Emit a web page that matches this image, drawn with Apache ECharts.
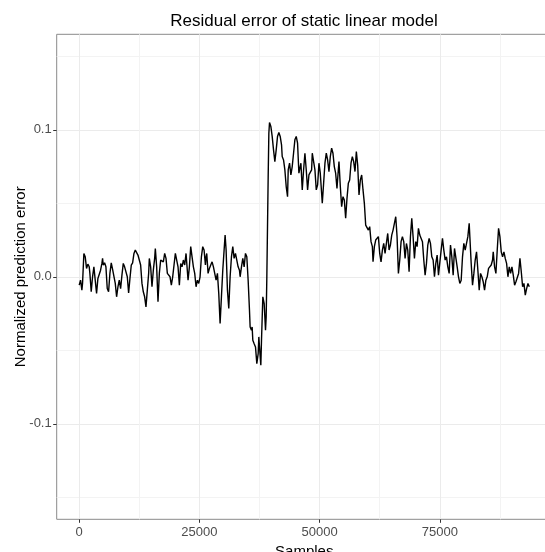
<!DOCTYPE html>
<html>
<head>
<meta charset="utf-8">
<script src="https://cdn.jsdelivr.net/npm/echarts@6/dist/echarts.min.js"></script>
<style>
  html, body { margin: 0; padding: 0; background: #ffffff; }
  #chart { width: 545px; height: 552px; }
</style>
</head>
<body>
<div id="chart"></div>
<script>
// Sample index of each residual point
const sampleIndex = [
  0, 278, 556, 694, 972, 1250, 1528, 1805, 2083, 2222,
  2500, 2778, 3055, 3333, 3611, 3889, 4166, 4444, 4722, 4861,
  5000, 5277, 5555, 5833, 6111, 6388, 6666, 6944, 7222, 7500,
  7777, 8055, 8333, 8611, 8888, 9166, 9444, 9722, 10000, 10277,
  10555, 10833, 11110, 11388, 11666, 11944, 12221, 12499, 12777, 13055,
  13332, 13610, 13888, 14166, 14444, 14582, 14860, 15138, 15416, 15693,
  15832, 16110, 16388, 16666, 16943, 17221, 17499, 17777, 18054, 18332,
  18610, 18888, 19165, 19443, 19721, 19999, 20276, 20554, 20832, 21110,
  21388, 21665, 21943, 22221, 22360, 22637, 22915, 23193, 23471, 23748,
  24026, 24304, 24582, 24860, 25137, 25415, 25693, 25971, 26248, 26387,
  26526, 26804, 27082, 27359, 27637, 27915, 28193, 28470, 28748, 29026,
  29304, 29581, 29859, 30137, 30345, 30554, 30831, 31109, 31387, 31665,
  31942, 32220, 32498, 32776, 33053, 33331, 33470, 33748, 34026, 34303,
  34581, 34859, 35137, 35414, 35553, 35831, 35970, 36109, 36387, 36664,
  36942, 37220, 37359, 37498, 37775, 37914, 38192, 38470, 38748, 38886,
  39025, 39303, 39442, 39581, 39859, 40136, 40414, 40692, 40970, 41247,
  41525, 41803, 42081, 42220, 42497, 42775, 43053, 43331, 43469, 43747,
  44025, 44303, 44580, 44858, 45136, 45414, 45691,
  46112, 46390, 46667, 46945, 47223, 47501, 47778, 48056, 48334, 48473,
  48750, 49028, 49306, 49584, 49862, 50139, 50417, 50556, 50834, 51111,
  51389, 51667, 51945, 52222, 52500, 52778, 53056, 53334, 53611, 53889,
  54028, 54306, 54583, 54861, 55139, 55417, 55694, 55972, 56250, 56528,
  56806, 57083, 57361, 57639, 57917, 58194, 58472, 58750, 59028, 59305,
  59583, 59861, 60139, 60416, 60694, 60972, 61111, 61389, 61666, 61944,
  62222, 62500, 62778, 63055, 63333, 63611, 63888, 64166, 64444, 64722,
  65000, 65277, 65555, 65833, 66110, 66388, 66666, 66944, 67221, 67499,
  67777, 68055, 68332, 68610, 68888, 69166, 69444, 69721, 69999, 70277,
  70554, 70832, 71110, 71388, 71665, 71943, 72221, 72499, 72776, 73054,
  73332, 73610, 73888, 74165, 74443, 74721, 74999, 75276, 75554, 75832,
  76110, 76387, 76665, 76943, 77221, 77498, 77776, 78054, 78332, 78609,
  78887, 79165, 79443, 79720, 79998, 80276, 80554, 80831, 81109, 81248,
  81526, 81804, 82081, 82359, 82637, 82915, 83193, 83470, 83748, 84026,
  84304, 84581, 84859, 85137, 85415, 85692, 85970, 86109, 86387, 86665,
  86942, 87220, 87498, 87776, 88053, 88331, 88609, 88887, 89165, 89442,
  89720, 89998, 90276, 90553, 90831, 91109, 91387, 91664, 91942, 92220,
  92498, 92776, 93053, 93331, 93609
];

// Normalized prediction error at each sample
const predictionError = [
  -0.0057, -0.0023, -0.0091, -0.0045, 0.0159, 0.0136, 0.0057, 0.0086, 0.0068, 0.0023,
  -0.0102, 0, 0.0068, 0.0080, -0.0114, -0.0011, -0.0023, 0.0045, 0.0091, 0.0125,
  0.0080, 0.0095, 0.0068, -0.0080, -0.0102, 0.0023, 0.0095, 0.0050, 0.0041, -0.0045,
  -0.0136, -0.0068, -0.0023, -0.0080, 0.0011, 0.0091, 0.0068, 0.0080, 0, -0.0109,
  -0.0011, 0.0080, 0.0095, 0.0159, 0.0182, 0.0193, 0.0148, 0.0114, 0.0080, -0.0045,
  -0.0102, -0.0136, -0.0205, -0.0091, 0.0023, 0.0125, 0.0068, -0.0068, 0.0045, 0.0125,
  0.0193, 0.0068, -0.0170, 0.0023, 0.0114, 0.0125, 0.0102, 0.0159, 0.0125, 0.0023,
  0.0034, 0, -0.0057, 0, 0.0080, 0.0159, 0.0170, 0.0068, -0.0057, 0.0091,
  0.0068, 0.0114, 0.0080, 0.0159, 0.0170, -0.0023, 0.0068, 0.0205, 0.0136, 0.0068,
  0.0023, -0.0068, -0.0023, -0.0045, 0, 0.0136, 0.0205, 0.0182, 0.0080, 0.0136,
  0.0159, 0.0023, 0.0057, 0.0080, 0.0102, 0.0068, 0.0080, -0.0023, 0.0023, -0.0114,
  -0.0318, -0.0136, 0.0045, 0.0182, 0.0284, 0.0182, -0.0091, -0.0216, 0, 0.0136,
  0.0205, 0.0125, 0.0159, 0.0170, 0.0068, 0.0045, 0, 0.0068, 0.0125, 0.0068,
  0.0159, 0.0136, -0.0023, -0.0227, -0.0341, -0.0364, -0.0341, -0.0432, -0.0455, -0.0477,
  -0.0591, -0.0523, -0.0409, -0.0477, -0.0602, -0.0432, -0.0136, -0.0182, -0.0364, -0.0273,
  0, 0.0682, 0.0977, 0.1050, 0.1023, 0.0955, 0.0864, 0.0784, 0.0864, 0.0955,
  0.0982, 0.0955, 0.0898, 0.0818, 0.0795, 0.0727, 0.0614, 0.0545, 0.0727, 0.0773,
  0.0693, 0.0750, 0.0841, 0.0932, 0.0955, 0.0909, 0.0705,
  0.0773, 0.0591, 0.0727, 0.0841, 0.0727, 0.0591, 0.0693, 0.0705, 0.0727, 0.0841,
  0.0852, 0.0727, 0.0591, 0.0625, 0.0773, 0.0705, 0.0568, 0.0500, 0.0636, 0.0773,
  0.0841, 0.0795, 0.0716, 0.0818, 0.0875, 0.0841, 0.0750, 0.0705, 0.0602, 0.0727,
  0.0784, 0.0614, 0.0477, 0.0545, 0.0523, 0.0398, 0.0534, 0.0636, 0.0659, 0.0773,
  0.0818, 0.0784, 0.0716, 0.0852, 0.0761, 0.0557, 0.0659, 0.0693, 0.0591, 0.0500,
  0.0352, 0.0341, 0.0318, 0.0341, 0.0239, 0.0205, 0.0102, 0.0205, 0.0250, 0.0261,
  0.0273, 0.0159, 0.0102, 0.0182, 0.0227, 0.0159, 0.0227, 0.0295, 0.0182, 0.0216,
  0.0284, 0.0318, 0.0330, 0.0409, 0.0273, 0.0023, 0.0114, 0.0239, 0.0273, 0.0239,
  0.0125, 0.0227, 0.0182, 0.0034, 0.0273, 0.0398, 0.0273, 0.0125, 0.0239, 0.0205,
  0.0330, 0.0284, 0.0295, 0.0239, 0.0114, 0.0011, 0.0091, 0.0216, 0.0261, 0.0227,
  0.0136, 0.0114, 0, 0.0091, 0.0148, 0.0011, 0, 0.0182, 0.0261, 0.0182,
  0.0114, 0.0136, 0.0068, 0.0023, 0.0216, 0.0136, 0.0011, 0.0193, 0.0182, 0.0068,
  0, -0.0045, -0.0023, 0.0136, 0.0227, 0.0182, 0.0227, 0.0273, 0.0364, 0.0273,
  0.0091, -0.0057, 0.0023, 0.0114, 0.0170, 0.0045, -0.0091, 0.0023, 0, -0.0034,
  -0.0091, -0.0023, 0, 0.0057, 0.0045, 0.0080, 0.0114, 0.0170, 0.0068, 0.0023,
  0.0182, 0.0330, 0.0273, 0.0170, 0.0136, 0.0170, 0.0125, 0.0091, 0, 0.0068,
  0.0023, 0.0068, 0.0011, -0.0057, -0.0034, -0.0023, 0.0023, 0.0125, 0.0034, -0.0068,
  -0.0045, -0.0125, -0.0080, -0.0045, -0.0068
];

// Tick positions
const xMajorTicks = [0, 25000, 50000, 75000];
const xMinorTicks = [12500, 37500, 62500, 87500];
const yMajorTicks = [-0.1, 0, 0.1];
const yMinorTicks = [-0.15, -0.05, 0.05, 0.15];

// Axis limits (5% padding around the data range)
const xLimits = [-4680, 98290];
const yLimits = [-0.165, 0.165];

const chart = echarts.init(document.getElementById('chart'), null, { renderer: 'canvas' });

const FONT = '"Liberation Sans", Arial, Helvetica, sans-serif';
const GRID_MAJOR = '#EBEBEB';
const GRID_MINOR = '#F3F3F3';

const points = sampleIndex.map((s, i) => [s, predictionError[i]]);

const option = {
  animation: false,
  backgroundColor: '#ffffff',
  textStyle: { fontFamily: FONT },
  grid: {
    left: 56.7,
    top: 34.3,
    width: 495.1,
    height: 485,
    outerBoundsMode: 'none',
    containLabel: false,
    show: true,
    backgroundColor: '#ffffff',
    borderColor: '#8a8a8a',
    borderWidth: 1
  },
  graphic: [{
    type: 'text',
    x: 304,
    y: 21.5,
    style: {
      text: 'Residual error of static linear model',
      fill: '#000000',
      font: '17px ' + FONT,
      textAlign: 'center',
      textVerticalAlign: 'middle'
    }
  }],
  xAxis: [{
    type: 'value',
    min: xLimits[0],
    max: xLimits[1],
    name: 'Samples',
    nameLocation: 'middle',
    nameGap: 20,
    nameTextStyle: { color: '#000000', fontSize: 15, fontFamily: FONT },
    axisLine: { show: false, onZero: false },
    axisTick: { show: true, length: 3.5, customValues: xMajorTicks, lineStyle: { color: '#333333', width: 1 } },
    axisLabel: { show: true, customValues: xMajorTicks, color: '#4D4D4D', fontSize: 13, fontFamily: FONT, margin: 7,
      formatter: v => String(v) },
    splitLine: { show: true, lineStyle: { color: GRID_MAJOR, width: 1 } }
  }, {
    type: 'value',
    min: xLimits[0],
    max: xLimits[1],
    position: 'bottom',
    axisLine: { show: false, onZero: false },
    axisTick: { show: false, customValues: xMinorTicks },
    axisLabel: { show: false, customValues: xMinorTicks },
    splitLine: { show: true, lineStyle: { color: GRID_MINOR, width: 1 } }
  }],
  yAxis: [{
    type: 'value',
    min: yLimits[0],
    max: yLimits[1],
    name: 'Normalized prediction error',
    nameLocation: 'middle',
    nameGap: 28,
    nameMoveOverlap: false,
    nameTextStyle: { color: '#000000', fontSize: 15, fontFamily: FONT },
    axisLine: { show: false, onZero: false },
    axisTick: { show: true, length: 3.5, customValues: yMajorTicks, lineStyle: { color: '#333333', width: 1 } },
    axisLabel: { show: true, customValues: yMajorTicks, color: '#4D4D4D', fontSize: 13, fontFamily: FONT, margin: 5,
      formatter: v => v.toFixed(1) },
    splitLine: { show: true, lineStyle: { color: GRID_MAJOR, width: 1 } }
  }, {
    type: 'value',
    min: yLimits[0],
    max: yLimits[1],
    position: 'left',
    axisLine: { show: false, onZero: false },
    axisTick: { show: false, customValues: yMinorTicks },
    axisLabel: { show: false, customValues: yMinorTicks },
    splitLine: { show: true, lineStyle: { color: GRID_MINOR, width: 1 } }
  }],
  series: [{
    type: 'line',
    xAxisIndex: 0,
    yAxisIndex: 0,
    data: points,
    showSymbol: false,
    symbol: 'none',
    smooth: false,
    lineStyle: { color: '#000000', width: 1.4 },
    z: 5
  }]
};

chart.setOption(option);
</script>
</body>
</html>
